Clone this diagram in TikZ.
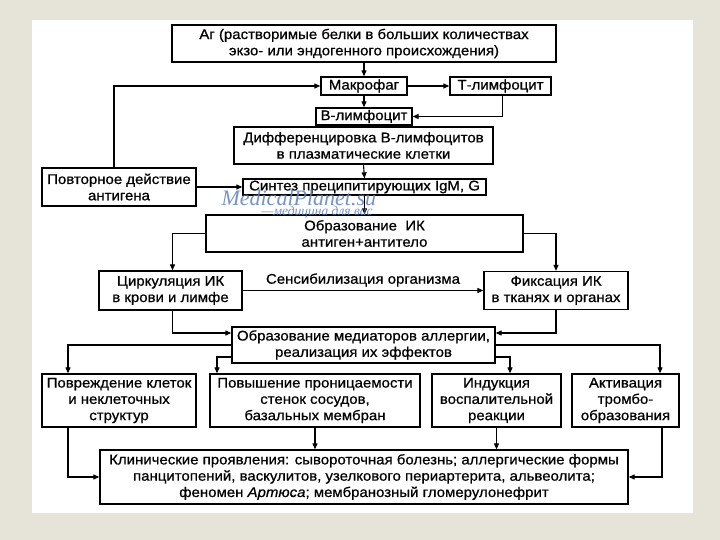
\documentclass[tikz,border=0pt]{standalone}
\usepackage{fontspec}
\setmainfont{Liberation Sans}[FakeBold=0.7,FakeStretch=1.07]
\newfontfamily\wmfont{Liberation Serif}
\usetikzlibrary{arrows.meta,calc}
\definecolor{bgout}{HTML}{E6E4D9}
\definecolor{wmblue}{HTML}{5F80BE}
\begin{document}
\begin{tikzpicture}[x=1pt,y=-1pt,
  box/.style={draw,line width=1.3pt,inner sep=0pt,align=center,fill=white,
    font=\fontsize{14}{16.3}\selectfont},
  arr/.style={line width=1.1pt,-{Triangle[length=6pt,width=5pt]}},
  lbl/.style={font=\fontsize{14}{16}\selectfont}]
\useasboundingbox (0,0) rectangle (720,540);
\fill[bgout] (0,0) rectangle (720,540);
\fill[white] (32,20) rectangle (693,513);

\node[box,minimum width=384pt,minimum height=37pt] (ag) at (364,43.5)
  {Аг (растворимые белки в больших количествах\\экзо- или эндогенного происхождения)};
\node[box,minimum width=86pt,minimum height=18pt] (mac) at (364,86) {Макрофаг};
\node[box,minimum width=101pt,minimum height=18pt] (tl) at (500.5,86) {Т-лимфоцит};
\node[box,minimum width=96pt,minimum height=17pt] (bl) at (364,116.5) {В-лимфоцит};
\node[box,minimum width=259pt,minimum height=37pt] (diff) at (363.5,145.5)
  {Дифференцировка В-лимфоцитов\\в плазматические клетки};
\node[box,minimum width=243pt,minimum height=16pt] (syn) at (364.5,187)
  {Синтез преципитирующих IgM, G};
\node[box,minimum width=154pt,minimum height=38pt] (rep) at (119,187)
  {Повторное действие\\антигена};
\node[box,minimum width=317pt,minimum height=37pt] (ik) at (364.5,233.5)
  {Образование\ \ ИК\\антиген+антитело};
\node[box,minimum width=143pt,minimum height=39pt] (circ) at (170.5,290.5)
  {Циркуляция ИК\\в крови и лимфе};
\node[box,minimum width=144pt,minimum height=38pt] (fix) at (556,290.5)
  {Фиксация ИК\\в тканях и органах};
\node[box,minimum width=263pt,minimum height=36pt] (med) at (363.5,345)
  {Образование медиаторов аллергии,\\реализация их эффектов};
\node[box,minimum width=154pt,minimum height=53pt] (b1) at (119,400.5)
  {Повреждение клеток\\и неклеточных\\структур};
\node[box,minimum width=210pt,minimum height=53pt] (b2) at (315,400.5)
  {Повышение проницаемости\\стенок сосудов,\\базальных мембран};
\node[box,minimum width=129pt,minimum height=53pt] (b3) at (496.5,400.5)
  {Индукция\\воспалительной\\реакции};
\node[box,minimum width=107pt,minimum height=53pt] (b4) at (625.5,400.5)
  {Активация\\тромбо-\\образования};
\node[box,minimum width=528pt,minimum height=54pt] (clin) at (364,477)
  {Клинические проявления: сывороточная болезнь; аллергические формы\\
   панцитопений, васкулитов, узелкового периартерита, альвеолита;\\
   феномен \textit{Артюса}; мембранозный гломерулонефрит};

\draw[arr] (ag.south) -- (mac.north);
\draw[arr] (mac.south) -- (bl.north);
\draw[arr] (mac.east) -- (tl.west);
\draw[arr] ([xshift=2pt]tl.south) |- (bl.east);
\draw[arr] (diff.south) -- (syn.north);
\draw[arr] (syn.south) -- (ik.north);
\draw[arr] (rep.east) -- (syn.west);
\draw[arr] ([xshift=-5pt]rep.north) |- (mac.west);
\draw[arr] (ik.west) -| ([xshift=2pt]circ.north);
\draw[arr] (ik.east) -| (fix.north);
\draw[arr] (circ.east) -- node[lbl,above=0pt] {Сенсибилизация организма} (fix.west);
\draw[arr] ([xshift=2pt]circ.south) |- ([yshift=12pt]med.west);
\draw[arr] (fix.south) |- ([yshift=12pt]med.east);
\draw[arr] (med.west) -| ([xshift=-51pt]b1.north);
\draw[arr] ([yshift=-12pt]med.west) -| ([xshift=-98pt]b2.north);
\draw[arr] ([yshift=-12pt]med.east) -| ([xshift=13.5pt]b3.north);
\draw[arr] (med.east) -| ([xshift=34.5pt]b4.north);
\draw[arr] ([xshift=-51pt]b1.south) |- (clin.west);
\draw[arr] (b2.south) -- (b2.south |- clin.north);
\draw[arr] (b3.south) -- (b3.south |- clin.north);
\draw[arr] ([xshift=36.5pt]b4.south) |- (clin.east);

\node[text=wmblue,opacity=0.85,font=\wmfont\itshape\fontsize{22}{22}\selectfont,anchor=base west] (wm1) at (218,206) {MedicalPlanet.su};
\node[text=wmblue,opacity=0.85,font=\wmfont\itshape\fontsize{13.5}{13.5}\selectfont,anchor=base west] (wm2) at (258,215) {—медицина для вас};
\end{tikzpicture}
\end{document}
